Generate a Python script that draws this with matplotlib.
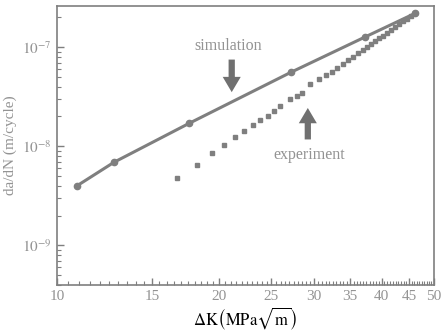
import numpy as np
import matplotlib.pyplot as plt
from matplotlib.ticker import FixedLocator, LogLocator, NullFormatter

plt.rcParams['font.family'] = 'Liberation Serif'
plt.rcParams['mathtext.fontset'] = 'stix'

# simulation curve (circles)
sim_dk = [10.9, 12.76, 17.57, 27.2, 37.2, 46.2]
sim_rate = [4.0e-9, 6.9e-9, 1.7e-8, 5.6e-8, 1.26e-7, 2.2e-7]

# experiment (squares)
exp_dk = [16.69, 18.18, 19.39, 20.40, 21.38, 22.22, 23.09, 23.79, 24.62, 25.26,
          25.92, 27.04, 27.86, 28.47, 29.45, 30.6, 31.54, 32.36, 33.05, 33.9,
          34.64, 35.39, 36.15, 36.93, 37.57, 38.21, 38.87, 39.54, 40.22, 40.92,
          41.62, 42.34, 43.05, 43.8, 44.56, 45.33, 46.1]
exp_rate = [4.75e-9, 6.43e-9, 8.5e-9, 1.02e-8, 1.23e-8, 1.42e-8, 1.63e-8, 1.83e-8,
            2.01e-8, 2.26e-8, 2.54e-8, 2.98e-8, 3.2e-8, 3.43e-8, 4.23e-8, 4.75e-8,
            5.21e-8, 5.59e-8, 6.13e-8, 6.73e-8, 7.4e-8, 8.02e-8, 8.7e-8, 9.44e-8,
            1.007e-7, 1.077e-7, 1.15e-7, 1.23e-7, 1.31e-7, 1.40e-7, 1.49e-7,
            1.59e-7, 1.70e-7, 1.82e-7, 1.94e-7, 2.07e-7, 2.20e-7]

xticks = [10, 15, 20, 25, 30, 35, 40, 45, 50]

gray = '#7f7f7f'
tgray = '#939393'

fig = plt.figure(figsize=(4.44, 3.36), dpi=100)
ax = fig.add_axes([0.128, 0.152, 0.849, 0.830])

ax.plot(sim_dk, sim_rate, '-o', color=gray, lw=2.2, ms=4.5)
ax.plot(exp_dk, exp_rate, 's', color=gray, ms=3.4, lw=0)

ax.set_xscale('log')
ax.set_yscale('log')
ax.set_xlim(10, 50)
ax.set_ylim(4e-10, 2.6e-7)

ax.xaxis.set_major_locator(FixedLocator(xticks))
ax.set_xticklabels([str(t) for t in xticks])
ax.xaxis.set_minor_locator(FixedLocator(np.arange(10, 50.01, 0.5)))
ax.xaxis.set_minor_formatter(NullFormatter())
ax.yaxis.set_major_locator(FixedLocator([1e-9, 1e-8, 1e-7]))
ax.set_yticklabels([r'$10^{-9}$', r'$10^{-8}$', r'$10^{-7}$'])
ax.yaxis.set_minor_locator(LogLocator(base=10, subs=np.arange(2, 10)))
ax.yaxis.set_minor_formatter(NullFormatter())

ax.tick_params(which='both', direction='in', colors=gray, labelcolor=tgray,
               labelsize=11, top=False, right=False)
ax.tick_params(which='major', length=5, width=1)
ax.tick_params(which='minor', length=3, width=0.8)
for s in ax.spines.values():
    s.set_color(gray)
    s.set_linewidth(1.2)

ax.set_xlabel(r'$\Delta\mathrm{K}\left(\mathrm{MPa}\sqrt{\mathrm{m}}\right)$',
              fontsize=12, color='black', labelpad=2)
ax.set_ylabel('da/dN (m/cycle)', fontsize=11, color=tgray, labelpad=4)

arrow = dict(arrowstyle='simple,head_width=1.3,head_length=1.1,tail_width=0.45',
             color='#707070', lw=0)
ax.text(20.8, 1.02e-7, 'simulation', ha='center', va='center', fontsize=11.5, color=tgray)
ax.annotate('', xy=(21.1, 3.3e-8), xytext=(21.1, 8.0e-8), arrowprops=arrow)
ax.text(29.4, 8.1e-9, 'experiment', ha='center', va='center', fontsize=11.5, color=tgray)
ax.annotate('', xy=(29.2, 2.6e-8), xytext=(29.2, 1.1e-8), arrowprops=arrow)

fig.savefig('out.png', dpi=100)
